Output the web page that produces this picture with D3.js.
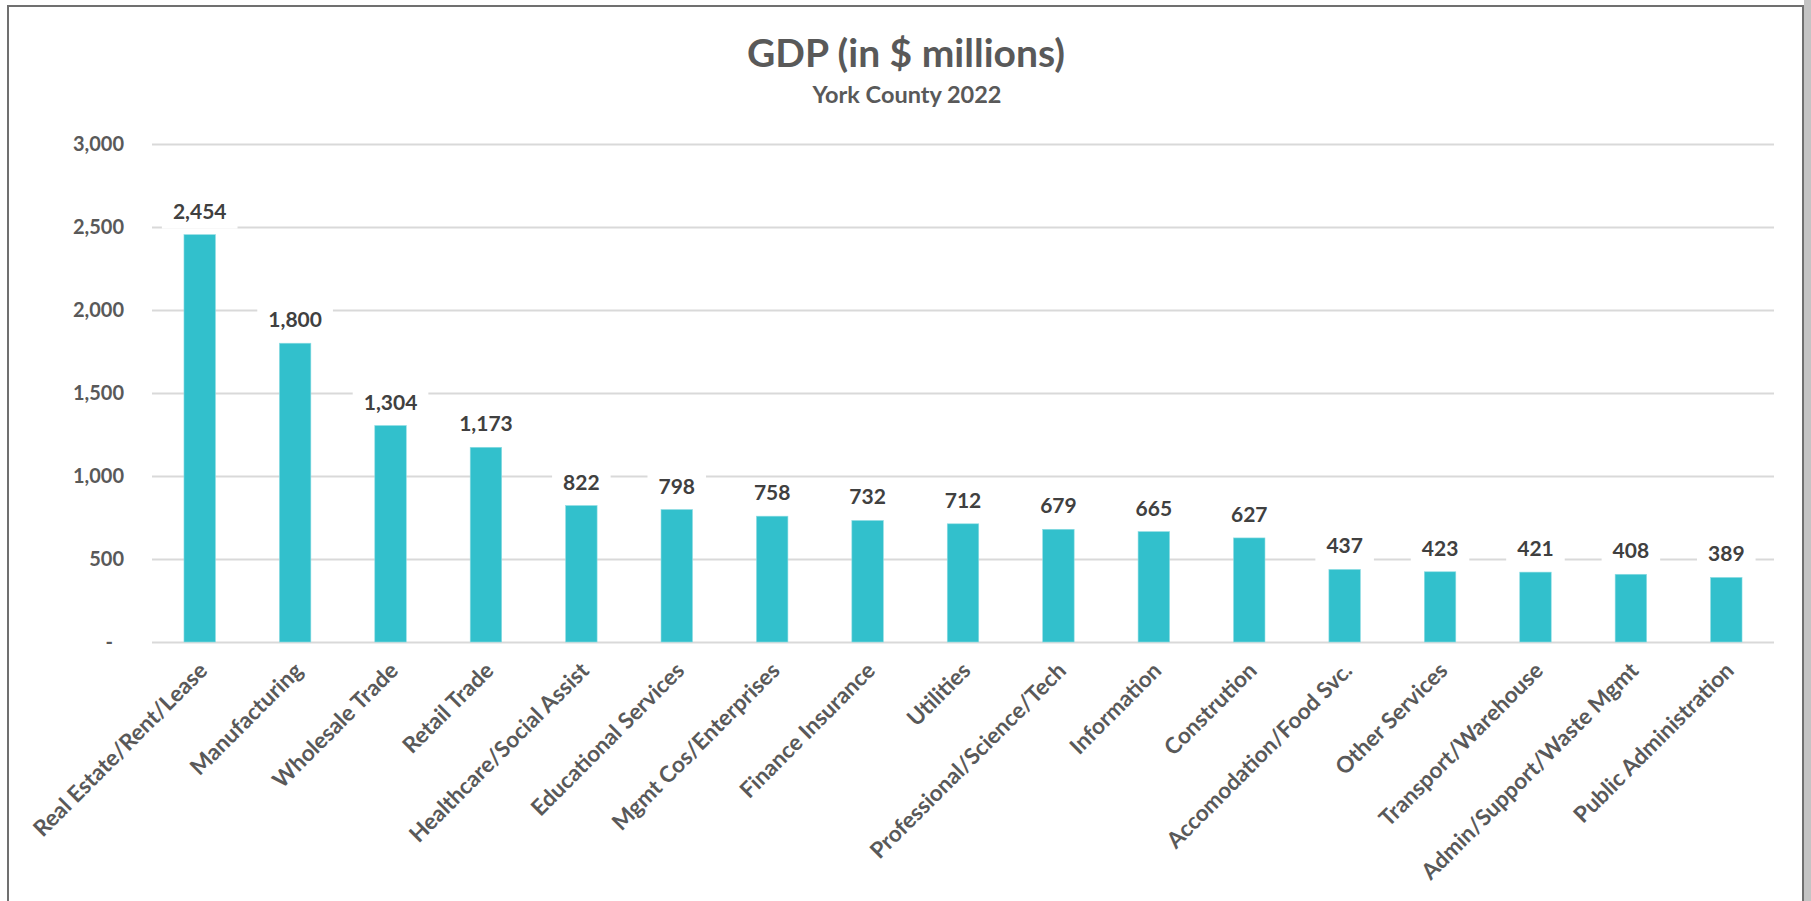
<!DOCTYPE html>
<html>
<head>
<meta charset="utf-8">
<script src="https://cdn.jsdelivr.net/npm/d3@7"></script>
<style>
  body { margin: 0; background: #fff; }
  text { font-family: Lato, "Open Sans", sans-serif; font-weight: bold; fill: #595959; }
</style>
</head>
<body>
<script>
var categories = [
  "Real Estate/Rent/Lease",
  "Manufacturing",
  "Wholesale Trade",
  "Retail Trade",
  "Healthcare/Social Assist",
  "Educational Services",
  "Mgmt Cos/Enterprises",
  "Finance Insurance",
  "Utilities",
  "Professional/Science/Tech",
  "Information",
  "Constrution",
  "Accomodation/Food Svc.",
  "Other Services",
  "Transport/Warehouse",
  "Admin/Support/Waste Mgmt",
  "Public Administration"
];
var values = [2454, 1800, 1304, 1173, 822, 798, 758, 732, 712, 679, 665, 627, 437, 423, 421, 408, 389];
var yTicks = [0, 500, 1000, 1500, 2000, 2500, 3000];
var title = "GDP (in $ millions)";
var subtitle = "York County 2022";

var W = 1811, H = 901;
var margin = { top: 144, right: 37, bottom: 259, left: 152 };
var width = W - margin.left - margin.right;
var height = H - margin.top - margin.bottom;

var svg = d3.select("body").append("svg")
  .attr("width", W)
  .attr("height", H);

// strip on the right edge, outside the chart frame
svg.append("rect")
  .attr("x", 1804).attr("y", 0)
  .attr("width", 7).attr("height", H)
  .attr("fill", "#c4c4c4");

svg.append("rect")
  .attr("x", 8).attr("y", 6)
  .attr("width", 1795).attr("height", H + 20)
  .attr("fill", "#fff")
  .attr("stroke", "#707070")
  .attr("stroke-width", 2);

var x = d3.scaleBand()
  .domain(categories)
  .range([0, width])
  .paddingInner(0.67)
  .paddingOuter(0.335);

var y = d3.scaleLinear()
  .domain([0, 3000])
  .range([height, 0]);

var g = svg.append("g")
  .attr("transform", "translate(" + margin.left + "," + margin.top + ")");

// gridlines
var grid = g.append("g")
  .call(d3.axisLeft(y).tickValues(yTicks).tickSize(-width).tickFormat(""));
grid.select(".domain").remove();
grid.selectAll("line").attr("stroke", "#d9d9d9").attr("stroke-width", 2);

// y axis labels
var yAxis = g.append("g")
  .call(d3.axisLeft(y)
    .tickValues(yTicks)
    .tickSize(0)
    .tickPadding(28)
    .tickFormat(function(d) { return d === 0 ? "-" : d3.format(",")(d); }));
yAxis.select(".domain").remove();
yAxis.selectAll("text")
  .style("font-family", "Lato, sans-serif")
  .style("font-weight", "bold")
  .style("font-size", "20px")
  .attr("fill", "#595959")
  .attr("dx", function(d) { return d === 0 ? -11 : 0; });

// bars
g.selectAll(".bar")
  .data(values)
  .enter()
  .append("rect")
  .attr("class", "bar")
  .attr("x", function(d, i) { return x(categories[i]); })
  .attr("y", function(d) { return y(d); })
  .attr("width", x.bandwidth())
  .attr("height", function(d) { return height - y(d); })
  .attr("fill", "#32c0cc")
  .attr("stroke", "#8fdde3")
  .attr("stroke-width", 0.6);

// value labels with white boxes
var labels = g.selectAll(".lbl")
  .data(values)
  .enter()
  .append("g")
  .attr("class", "lbl")
  .attr("transform", function(d, i) {
    return "translate(" + (x(categories[i]) + x.bandwidth() / 2) + "," + (y(d) - 16) + ")";
  });

labels.append("text")
  .attr("text-anchor", "middle")
  .style("font-size", "21px")
  .text(function(d) { return d3.format(",")(d); });

labels.each(function() {
  var t = d3.select(this).select("text");
  var bb = t.node().getBBox();
  d3.select(this).insert("rect", "text")
    .attr("x", bb.x - 11)
    .attr("y", -20)
    .attr("width", bb.width + 22)
    .attr("height", 30)
    .attr("fill", "#fff");
});
labels.selectAll("text").style("fill", "#404040");

// x axis labels
var xAxis = g.append("g")
  .attr("transform", "translate(0," + height + ")")
  .call(d3.axisBottom(x).tickSize(0).tickPadding(0));
xAxis.select(".domain").remove();
xAxis.selectAll("text")
  .style("font-family", "Lato, sans-serif")
  .style("font-weight", "bold")
  .style("font-size", "22.5px")
  .attr("fill", "#595959")
  .attr("y", 0)
  .attr("dy", 0)
  .attr("text-anchor", "end")
  .attr("transform", "translate(9,30) rotate(-45)");

// titles
svg.append("text")
  .attr("x", 906)
  .attr("y", 67)
  .attr("text-anchor", "middle")
  .style("font-size", "39px")
  .text(title);

svg.append("text")
  .attr("x", 907)
  .attr("y", 103)
  .attr("text-anchor", "middle")
  .style("font-size", "23.5px")
  .text(subtitle);
</script>
</body>
</html>
